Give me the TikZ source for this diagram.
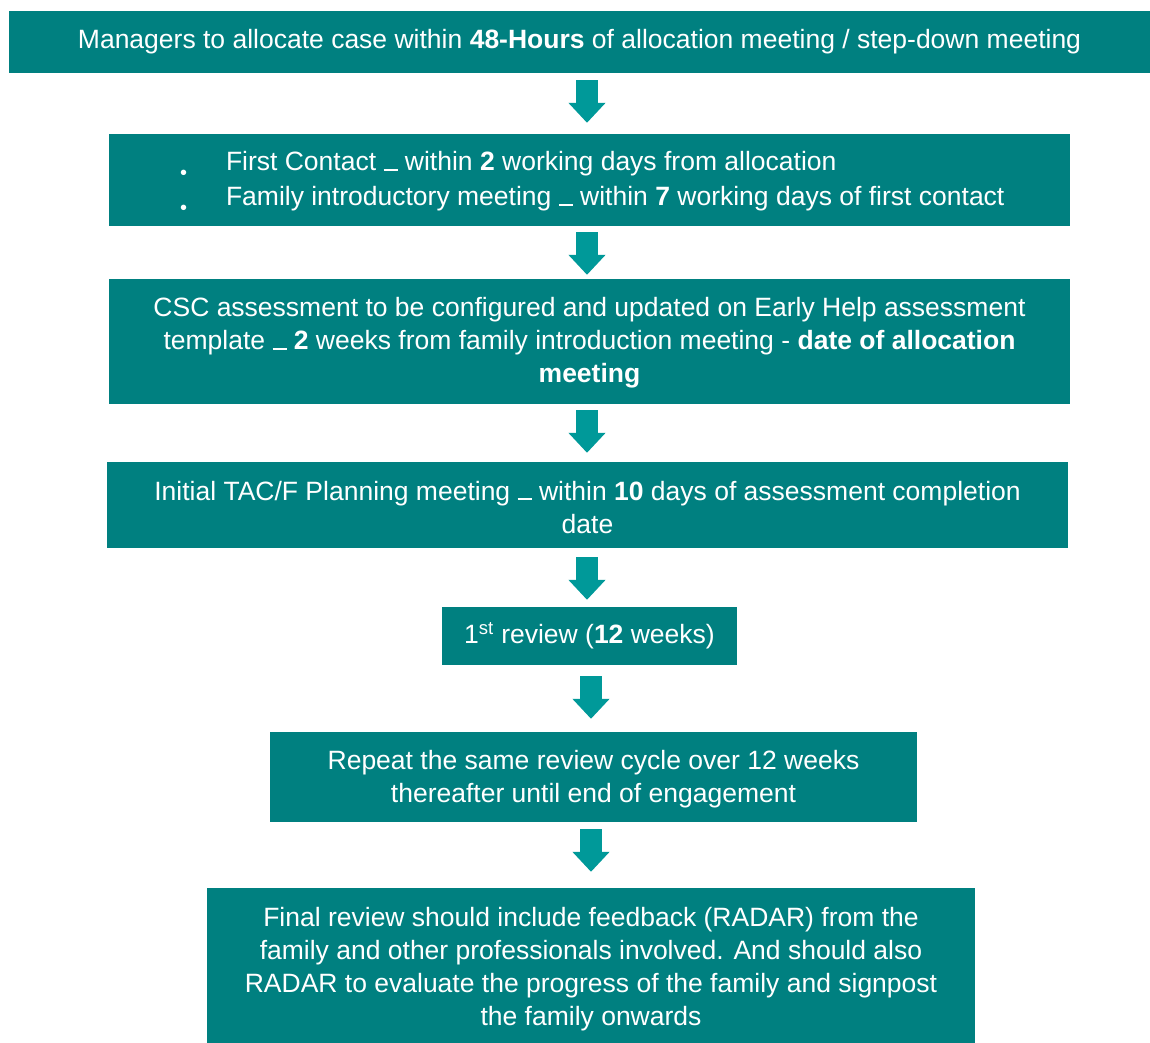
\documentclass[tikz,border=0pt]{standalone}
\usepackage{fontspec}
\setmainfont{Liberation Sans}
\usetikzlibrary{arrows.meta}
\definecolor{boxteal}{RGB}{0,128,128}
\definecolor{arrteal}{RGB}{0,153,153}
\newcommand\dsh{\rule{14pt}{2pt}}
\newcommand\lift[1]{\rule{0pt}{#1pt}}
\newcommand\bul{\hspace*{30.5pt}\makebox[46pt][l]{\raisebox{-9pt}{\fontsize{20}{20}\selectfont\textbullet}}}
\begin{document}
\begin{tikzpicture}[x=1pt,y=-1pt,
  box/.style={fill=boxteal, text=white, font=\fontsize{26.5}{33}\selectfont, align=center, inner sep=0pt},
  arr/.style={draw=arrteal, line width=22pt, -{Triangle[width=36pt,length=20pt]}}]
\useasboundingbox (0,0) rectangle (1150,1043);
\fill[white] (0,0) rectangle (1150,1043);
\coordinate (c1) at (587,0);
\coordinate (c2) at (591,0);
\node[box, minimum width=1141pt, minimum height=62pt] (b1) at (579.5,42)
  {Managers to allocate case within \textbf{48-Hours} of allocation meeting / step-down meeting};
\node[box, minimum width=961pt, minimum height=92pt, text width=880pt, align=flush left,
  font=\fontsize{26.5}{35}\selectfont] (b2) at (589.5,180)
  {\lift{25.5}\bul First Contact \dsh{} within \textbf{2} working days from allocation\\
   \bul Family introductory meeting \dsh{} within \textbf{7} working days of first contact};
\node[box, minimum width=961pt, minimum height=125pt] (b3) at (589.5,341.5)
  {\lift{22.5}CSC assessment to be configured and updated on Early Help assessment\\
   template \dsh{} \textbf{2} weeks from family introduction meeting - \textbf{date of allocation}\\
   \textbf{meeting}};
\node[box, minimum width=961pt, minimum height=86pt] (b4) at (587.5,505)
  {\lift{23.5}Initial TAC/F Planning meeting \dsh{} within \textbf{10} days of assessment completion\\ date};
\node[box, minimum width=295pt, minimum height=58pt] (b5) at (589.5,636)
  {1\textsuperscript{st} review (\textbf{12} weeks)};
\node[box, minimum width=647pt, minimum height=90pt] (b6) at (593.5,777)
  {\lift{23.5}Repeat the same review cycle over 12 weeks\\ thereafter until end of engagement};
\node[box, minimum width=768pt, minimum height=155pt] (b7) at (591,965.5)
  {\lift{25.5}Final review should include feedback (RADAR) from the\\
   family and other professionals involved. And should also\\
   RADAR to evaluate the progress of the family and signpost\\
   the family onwards};
\draw[arr, shorten <=7pt, shorten >=11pt] (b1.south -| c1) -- (b2.north -| c1);
\draw[arr, shorten <=6pt, shorten >=4pt] (b2.south -| c1) -- (b3.north -| c1);
\draw[arr, shorten <=6pt, shorten >=9pt] (b3.south -| c1) -- (b4.north -| c1);
\draw[arr, shorten <=9pt, shorten >=7pt] (b4.south -| c1) -- (b5.north -| c1);
\draw[arr, shorten <=11pt, shorten >=13pt] (b5.south -| c2) -- (b6.north -| c2);
\draw[arr, shorten <=7pt, shorten >=16pt] (b6.south -| c2) -- (b7.north -| c2);
\end{tikzpicture}
\end{document}
